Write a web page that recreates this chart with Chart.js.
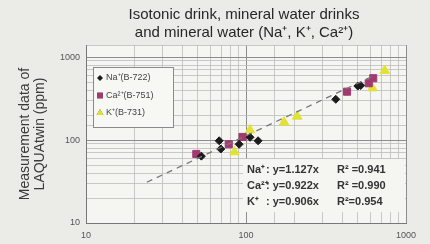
<!DOCTYPE html>
<html lang="en">
<head>
<meta charset="UTF-8">
<title>LAQUAtwin vs reference</title>
<style>
  html, body { margin: 0; padding: 0; background: #ebebe8; }
  #wrap { width: 430px; height: 244px; position: relative; }
</style>
</head>
<body>
<div id="wrap"><canvas id="chart" width="430" height="244"></canvas></div>
<script src="https://cdn.jsdelivr.net/npm/chart.js"></script>
<script>
// values (x = reference method, y = LAQUAtwin), ppm
const naX = [52.6, 68, 69.6, 90.6, 106, 119, 364, 500, 521];
const naY = [64, 98, 78, 89, 108, 98, 310, 448, 455];
const caX = [48.9, 78, 95, 428, 585, 624];
const caY = [68, 89, 109, 383, 484, 557];
const kX = [84.7, 106, 173, 209, 617, 736];
const kY = [71.8, 132, 164, 193, 424, 687];
const trendX = [24, 610];
const trendY = [31, 580];

const titleLines = ['Isotonic drink, mineral water drinks', 'and mineral water (Na\u207A, K\u207A, Ca\u00B2\u207A)'];
const seriesNames = ['Na\u207A(B-722)', 'Ca\u00B2\u207A(B-751)', 'K\u207A(B-731)'];
const eqNames = ['Na\u207A', 'Ca\u00B2\u207A', 'K\u207A'];
const eqFits = [': y=1.127x', ': y=0.922x', ': y=0.906x'];
const eqR2 = ['R\u00B2 =0.941', 'R\u00B2 =0.990', 'R\u00B2=0.954'];
const xTickLabels = [10, 100, 1000];
const yTickLabels = [10, 100, 1000];

const pts = (xs, ys) => xs.map((x, i) => ({ x: x, y: ys[i] }));

const naColor = '#1b1b1b', caColor = '#a23a70', kColor = '#e2e233';
const FONT = 'Arial, "Liberation Sans", sans-serif';

// panel, title (centred on the plot), legend box and fit box
const decor = {
  id: 'decor',
  beforeDraw(chart) {
    const { ctx, chartArea: a } = chart;
    ctx.save();
    ctx.fillStyle = '#f5f5f2';
    ctx.fillRect(a.left, a.top, a.right - a.left, a.bottom - a.top);
    ctx.font = '15px ' + FONT;
    ctx.fillStyle = '#262626';
    ctx.textAlign = 'center';
    ctx.textBaseline = 'middle';
    const cx = (a.left + a.right) / 2;
    titleLines.forEach((t, i) => ctx.fillText(t, cx - 2, 15 + i * 18));
    ctx.restore();
  },
  beforeDatasetsDraw(chart) {
    const { ctx, chartArea: a } = chart;
    ctx.save();
    ctx.fillStyle = '#f5f5f2';
    ctx.fillRect(a.left + 157, a.top + 114, 162, 53);
    ctx.restore();
  },
  afterDatasetsDraw(chart) {
    const { ctx, chartArea: a } = chart;
    ctx.save();
    const lx = a.left + 7, ly = a.top + 22;
    ctx.fillStyle = '#f7f7f4';
    ctx.fillRect(lx, ly, 80, 60);
    ctx.strokeStyle = '#8a8a8a';
    ctx.lineWidth = 1;
    ctx.strokeRect(lx + 0.5, ly + 0.5, 80, 60);
    const marks = [
      { style: 'rectRot', color: naColor, r: 3 },
      { style: 'rect', color: caColor, r: 4 },
      { style: 'triangle', color: kColor, r: 4 }
    ];
    ctx.font = '9px ' + FONT;
    ctx.textBaseline = 'middle';
    seriesNames.forEach((name, i) => {
      const y = ly + 11 + i * 17.5;
      Chart.helpers.drawPoint(ctx, {
        pointStyle: marks[i].style, radius: marks[i].r, rotation: 0, borderWidth: 0
      }, lx + 7, y);
      ctx.fillStyle = marks[i].color;
      ctx.fill();
      ctx.fillStyle = '#444';
      ctx.fillText(name, lx + 13, y);
    });
    ctx.font = 'bold 11px ' + FONT;
    ctx.fillStyle = '#333';
    eqNames.forEach((name, i) => {
      const y = a.top + 125 + i * 16;
      ctx.fillText(name, a.left + 161, y);
      ctx.fillText(eqFits[i], a.left + 180, y);
      ctx.fillText(eqR2[i], a.left + 251, y);
    });
    ctx.restore();
  }
};

const isMajor = v => Math.abs(Math.log10(v) - Math.round(Math.log10(v))) < 1e-6;

new Chart(document.getElementById('chart'), {
  type: 'scatter',
  data: {
    datasets: [
      {
        type: 'line',
        data: pts(trendX, trendY),
        borderColor: '#777',
        borderWidth: 1.3,
        borderDash: [6, 5],
        pointRadius: 0,
        fill: false
      },
      {
        label: seriesNames[0],
        data: pts(naX, naY),
        pointStyle: 'rectRot',
        pointRadius: 4,
        backgroundColor: naColor,
        borderColor: naColor
      },
      {
        label: seriesNames[1],
        data: pts(caX, caY),
        pointStyle: 'rect',
        pointRadius: 5,
        backgroundColor: caColor,
        borderColor: caColor
      },
      {
        label: seriesNames[2],
        data: pts(kX, kY),
        pointStyle: 'triangle',
        pointRadius: 5.5,
        backgroundColor: kColor,
        borderColor: kColor
      }
    ]
  },
  options: {
    responsive: false,
    animation: false,
    layout: { padding: { top: 45, right: 24, left: 17, bottom: 0 } },
    plugins: {
      legend: { display: false },
      tooltip: { enabled: false },
      title: { display: false }
    },
    scales: {
      x: {
        type: 'logarithmic',
        min: 10,
        max: 1000,
        afterFit: s => { s.height = 21; },
        border: { color: '#777', width: 1 },
        grid: {
          color: c => isMajor(c.tick.value) ? '#8d8d8d' : '#bcbcba',
          lineWidth: c => isMajor(c.tick.value) ? 1 : 0.8,
          tickLength: 0
        },
        ticks: {
          autoSkip: false,
          maxRotation: 0,
          padding: 7,
          color: '#555',
          font: { family: FONT, size: 9 },
          callback: v => xTickLabels.includes(v) ? String(v) : ''
        }
      },
      y: {
        type: 'logarithmic',
        min: 10,
        max: 1400,
        afterFit: s => { s.width = 69; },
        border: { color: '#777', width: 1 },
        grid: {
          color: c => isMajor(c.tick.value) ? '#8d8d8d' : '#bcbcba',
          lineWidth: c => isMajor(c.tick.value) ? 1 : 0.8,
          tickLength: 0
        },
        title: {
          display: true,
          text: ['Measurement data of', 'LAQUAtwin (ppm)'],
          color: '#3a3a3a',
          font: { family: FONT, size: 14, lineHeight: 1.1 },
          padding: { top: 0, bottom: 4 }
        },
        ticks: {
          autoSkip: false,
          padding: 6,
          color: '#555',
          font: { family: FONT, size: 9 },
          callback: v => yTickLabels.includes(v) ? String(v) : ''
        }
      }
    }
  },
  plugins: [decor]
});
</script>
</body>
</html>
